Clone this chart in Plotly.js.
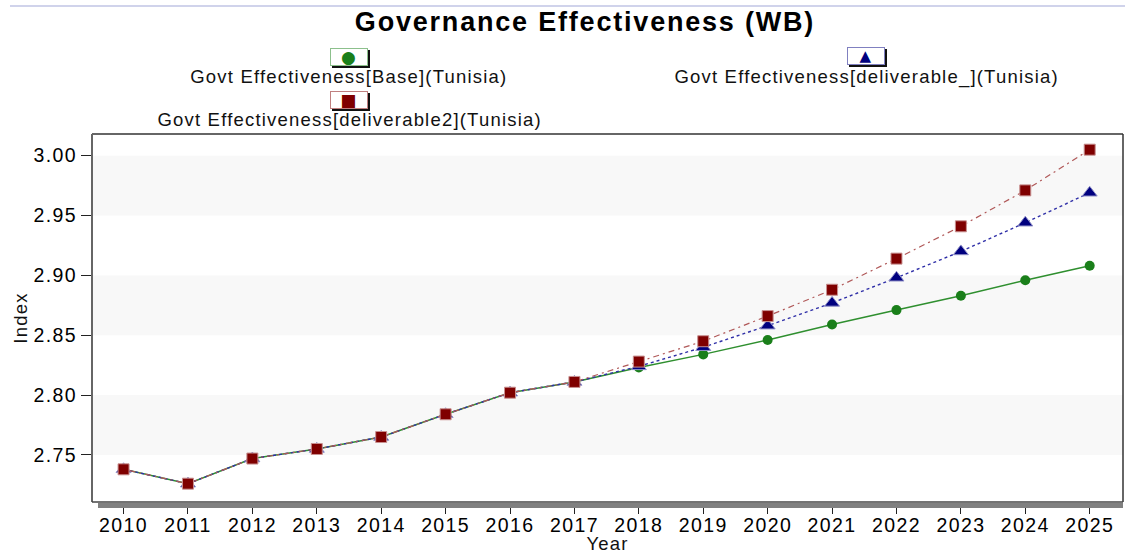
<!DOCTYPE html>
<html>
<head>
<meta charset="utf-8">
<script src="https://cdn.plot.ly/plotly-3.0.1.min.js"></script>
<style>
  html, body { margin: 0; padding: 0; background: #fff; }
  #chart { width: 1125px; height: 554px; }
  .main-svg text { letter-spacing: 1.2px; }
  .main-svg .xtick text, .main-svg .ytick text { letter-spacing: 1.4px; }
  .main-svg .gtitle { letter-spacing: 1.8px; }
</style>
</head>
<body>
<div id="chart"></div>
<script>
// ---- data ----
const years = [2010, 2011, 2012, 2013, 2014, 2015, 2016, 2017, 2018, 2019, 2020, 2021, 2022, 2023, 2024, 2025];
const baseValues = [2.738, 2.726, 2.747, 2.755, 2.765, 2.784, 2.802, 2.811, 2.823, 2.834, 2.846, 2.859, 2.871, 2.883, 2.896, 2.908];
const deliverableValues = [2.738, 2.726, 2.747, 2.755, 2.765, 2.784, 2.802, 2.811, 2.824, 2.840, 2.858, 2.877, 2.898, 2.920, 2.944, 2.969];
const deliverable2Values = [2.738, 2.726, 2.747, 2.755, 2.765, 2.784, 2.802, 2.811, 2.828, 2.845, 2.866, 2.888, 2.914, 2.941, 2.971, 3.005];
const seriesNames = [
  'Govt Effectiveness[Base](Tunisia)',
  'Govt Effectiveness[deliverable_](Tunisia)',
  'Govt Effectiveness[deliverable2](Tunisia)'
];
const yTickVals = [2.75, 2.80, 2.85, 2.90, 2.95, 3.00];
const yTickText = ['2.75', '2.80', '2.85', '2.90', '2.95', '3.00'];
const bandRanges = [[2.75, 2.80], [2.85, 2.90], [2.95, 3.00]];

// ---- geometry helpers (pixel -> paper) ----
const W = 1125, H = 554;
const M = { l: 92, r: 2, t: 134, b: 52 };
const PW = W - M.l - M.r, PH = H - M.t - M.b;
const px = x => (x - M.l) / PW;
const py = y => (H - M.b - y) / PH;

const FONT = 'Liberation Sans, Arial, sans-serif';

const traces = [
  {
    x: years, y: baseValues, name: seriesNames[0], type: 'scatter', mode: 'lines+markers',
    line: { color: '#2f8f2f', width: 1.5 },
    marker: { symbol: 'circle', size: 10, color: '#1a7f1a', line: { width: 0 } },
    showlegend: false
  },
  {
    x: years, y: deliverableValues, name: seriesNames[1], type: 'scatter', mode: 'lines+markers',
    line: { color: '#3030a8', width: 1.4, dash: 'dot' },
    marker: { symbol: 'triangle-up', size: 13, color: '#00007f', line: { color: '#9090c8', width: 1 } },
    showlegend: false
  },
  {
    x: years, y: deliverable2Values, name: seriesNames[2], type: 'scatter', mode: 'lines+markers',
    line: { color: '#b05858', width: 1.2, dash: '2px,4px,6px,4px' },
    marker: { symbol: 'square', size: 11, color: '#7f0000', line: { color: '#c89090', width: 1 } },
    showlegend: false
  }
];

const shapes = [];
bandRanges.forEach(r => shapes.push({
  type: 'rect', xref: 'paper', yref: 'y', x0: 0, x1: 1, y0: r[0], y1: r[1],
  fillcolor: '#f8f8f8', line: { width: 0 }, layer: 'below'
}));
// top decorative line
shapes.push({ type: 'line', xref: 'paper', yref: 'paper', x0: px(10), x1: px(1125), y0: py(6), y1: py(6),
  line: { color: '#c0c4e4', width: 1.5 } });
// x-axis shadow bar
shapes.push({ type: 'rect', xref: 'paper', yref: 'paper', x0: px(98), x1: px(1123), y0: py(508), y1: py(503),
  fillcolor: '#808080', line: { width: 0 } });
// plot frame
shapes.push({ type: 'line', xref: 'paper', yref: 'paper', x0: 0, x1: 1, y0: 1, y1: 1, line: { color: '#333', width: 1.5 } });
shapes.push({ type: 'line', xref: 'paper', yref: 'paper', x0: 1, x1: 1, y0: 0, y1: 1, line: { color: '#333', width: 1.5 } });
shapes.push({ type: 'line', xref: 'paper', yref: 'paper', x0: 0, x1: 0, y0: 0, y1: 1, line: { color: '#666', width: 2 } });
shapes.push({ type: 'line', xref: 'paper', yref: 'paper', x0: 0, x1: 1, y0: 0, y1: 0, line: { color: '#444', width: 1.5 } });

// legend (symbol boxes above labels)
const legendItems = [
  { cx: 349, boxY: 57, textY: 77, sym: '\u25CF', symColor: '#1a7f1a', border: '#8cc08c', size: 17, label: seriesNames[0] },
  { cx: 866, boxY: 56, textY: 77, sym: '\u25B2', symColor: '#00007f', border: '#8080c0', size: 15, label: seriesNames[1] },
  { cx: 349, boxY: 100, textY: 120, sym: '\u25A0', symColor: '#7f0000', border: '#c08080', size: 17, label: seriesNames[2] }
];
const annotations = [];
legendItems.forEach(it => {
  annotations.push({
    xref: 'paper', yref: 'paper', x: px(it.cx), y: py(it.boxY), xanchor: 'center', yanchor: 'middle',
    xshift: 2, yshift: -2,
    text: ' ', showarrow: false, width: 38, height: 18, bgcolor: '#111', borderpad: 0, borderwidth: 0
  });
  annotations.push({
    xref: 'paper', yref: 'paper', x: px(it.cx), y: py(it.boxY), xanchor: 'center', yanchor: 'middle',
    text: it.sym, showarrow: false, width: 36, height: 16, bgcolor: '#fff',
    bordercolor: it.border, borderwidth: 1, borderpad: 0,
    font: { family: 'DejaVu Sans', size: it.size, color: it.symColor }
  });
  annotations.push({
    xref: 'paper', yref: 'paper', x: px(it.cx), y: py(it.textY), xanchor: 'center', yanchor: 'middle',
    text: it.label, showarrow: false,
    font: { family: FONT, size: 18.5, color: '#111' }
  });
});

const xRange = [2009.51, 2025.517];
const yRange = [2.7107, 3.0181];

const layout = {
  width: W, height: H,
  margin: M,
  paper_bgcolor: '#fff', plot_bgcolor: '#fff',
  font: { family: FONT, color: '#111', size: 18.5 },
  title: {
    text: 'Governance Effectiveness (WB)', xref: 'container', yref: 'container',
    x: 585 / W, y: 1 - 22 / H, xanchor: 'center', yanchor: 'middle',
    font: { family: FONT, size: 27, color: '#000', weight: 'bold' }
  },
  xaxis: {
    range: xRange, autorange: false, tickvals: years, ticktext: years.map(String),
    ticks: 'outside', ticklen: 11, tickwidth: 1, tickcolor: '#222',
    ticklabelstandoff: -5,
    showline: false,
    showgrid: false, zeroline: false,
    tickfont: { family: FONT, size: 19.5, color: '#000' },
    title: { text: 'Year', font: { family: FONT, size: 18.5, color: '#111' }, standoff: 4 }
  },
  xaxis2: {
    range: xRange, autorange: false, overlaying: 'x', anchor: 'y', side: 'bottom',
    tickvals: years, ticks: 'inside', ticklen: 11, tickwidth: 1, tickcolor: '#222',
    showticklabels: false, showline: false, showgrid: false, zeroline: false
  },
  yaxis: {
    range: yRange, autorange: false, tickvals: yTickVals, ticktext: yTickText,
    ticks: 'outside', ticklen: 10, tickwidth: 1, tickcolor: '#222',
    showline: false, showgrid: false, zeroline: false,
    tickfont: { family: FONT, size: 19.5, color: '#000' },
    title: { text: 'Index', font: { family: FONT, size: 18.5, color: '#111' }, standoff: 6 }
  },
  yaxis2: {
    range: yRange, autorange: false, overlaying: 'y', anchor: 'x', side: 'left',
    tick0: 2.70, dtick: 0.01, ticks: 'inside', ticklen: 10, tickwidth: 1, tickcolor: '#333',
    showticklabels: false, showline: false, showgrid: false, zeroline: false
  },
  shapes: shapes,
  annotations: annotations
};

Plotly.newPlot('chart', traces, layout, { staticPlot: true, displayModeBar: false });
</script>
</body>
</html>
